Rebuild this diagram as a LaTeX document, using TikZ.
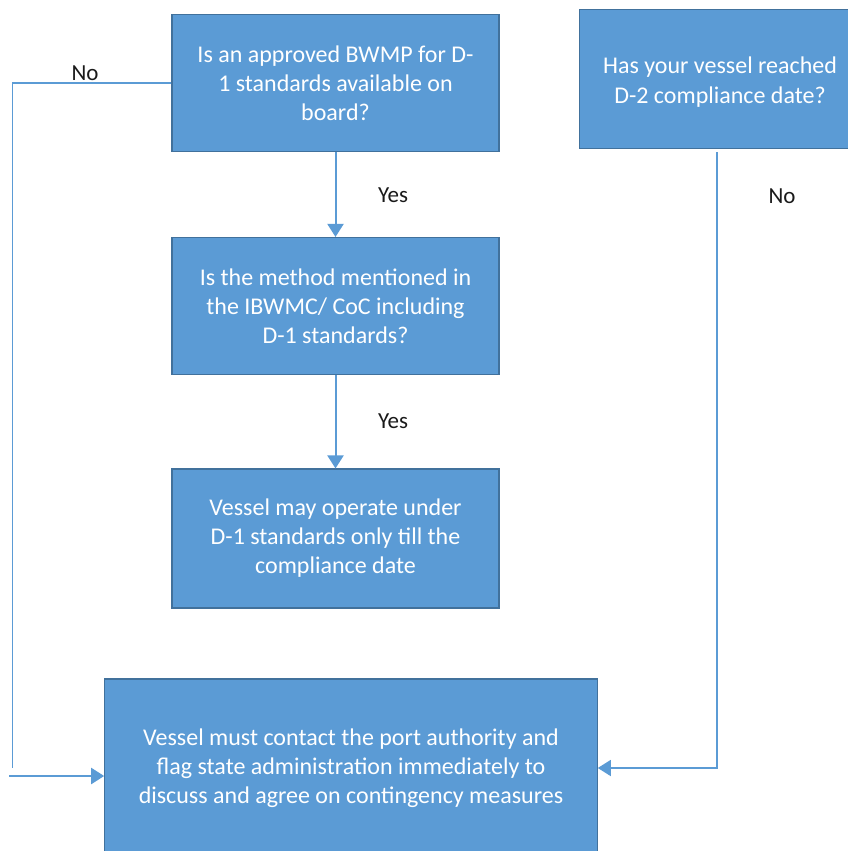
\documentclass[tikz,border=0pt]{standalone}
\usepackage{fontspec}
\setmainfont{Carlito}
\usetikzlibrary{arrows.meta}
\definecolor{boxfill}{HTML}{5B9BD5}
\definecolor{boxedge}{HTML}{41719C}
\definecolor{labelcol}{HTML}{1A1A1A}
\begin{document}
\begin{tikzpicture}[x=1pt,y=-1pt,
  qbox/.style={draw=boxedge, line width=1.1pt, fill=boxfill, text=white,
    font=\fontsize{24}{29}\selectfont, align=center, inner sep=0pt},
  qtext/.style={text=white, font=\fontsize{24}{30}\selectfont, align=center, inner sep=0pt},
  conn/.style={draw=boxfill, line width=2pt},
  arr/.style={conn, -{Triangle[width=16pt,length=13pt]}},
  lbl/.style={text=labelcol, font=\fontsize{23}{27}\selectfont, inner sep=0pt}]
\useasboundingbox (0,0) rectangle (848,851);
\clip (0,0) rectangle (848,851);

\node[qbox, minimum width=327pt, minimum height=137pt] (q1) at (335.5,83)
  {Is an approved BWMP for D-\\1 standards available on\\board?};
\node[qbox, minimum width=327pt, minimum height=137pt] (q2) at (335.5,306)
  {Is the method mentioned in\\the IBWMC/ CoC including\\D-1 standards?};
\node[qbox, minimum width=327pt, minimum height=139pt] (q3) at (335.5,538.5)
  {Vessel may operate under\\D-1 standards only till the\\compliance date};
\node[qbox, minimum width=281pt, minimum height=139pt] (q4) at (720,79) {};
\node[qtext] (q4t) at (720,82) {Has your vessel reached\\D-2 compliance date?};
\node[qbox, minimum width=492.5pt, minimum height=178pt] (q5) at (351,768)
  {Vessel must contact the port authority and\\flag state administration immediately to\\discuss and agree on contingency measures};

\node[lbl] (no1) at (85,73) {No};
\node[lbl] (yes1) at (393,195) {Yes};
\node[lbl] (yes2) at (393,421) {Yes};
\node[lbl] (no2) at (782,196) {No};

% left branch
\coordinate (lc1) at (12.5,83);
\coordinate (lc2) at (12.5,768);
\draw[conn, line width=1.6pt] (q1.west) -- (lc1) -- (lc2);
\coordinate (la) at (9,776);
\draw[arr] (la) -- (la -| q5.west);

% vertical arrows
\draw[arr] (q1.south) -- (q2.north);
\draw[arr] (q2.south) -- (q3.north);

% right branch
\coordinate (rc0) at (716.7,152);
\coordinate (rc1) at (716.7,768);
\draw[arr, line width=1.6pt] (rc0) -- (rc1) -- (q5.east);
\end{tikzpicture}
\end{document}
